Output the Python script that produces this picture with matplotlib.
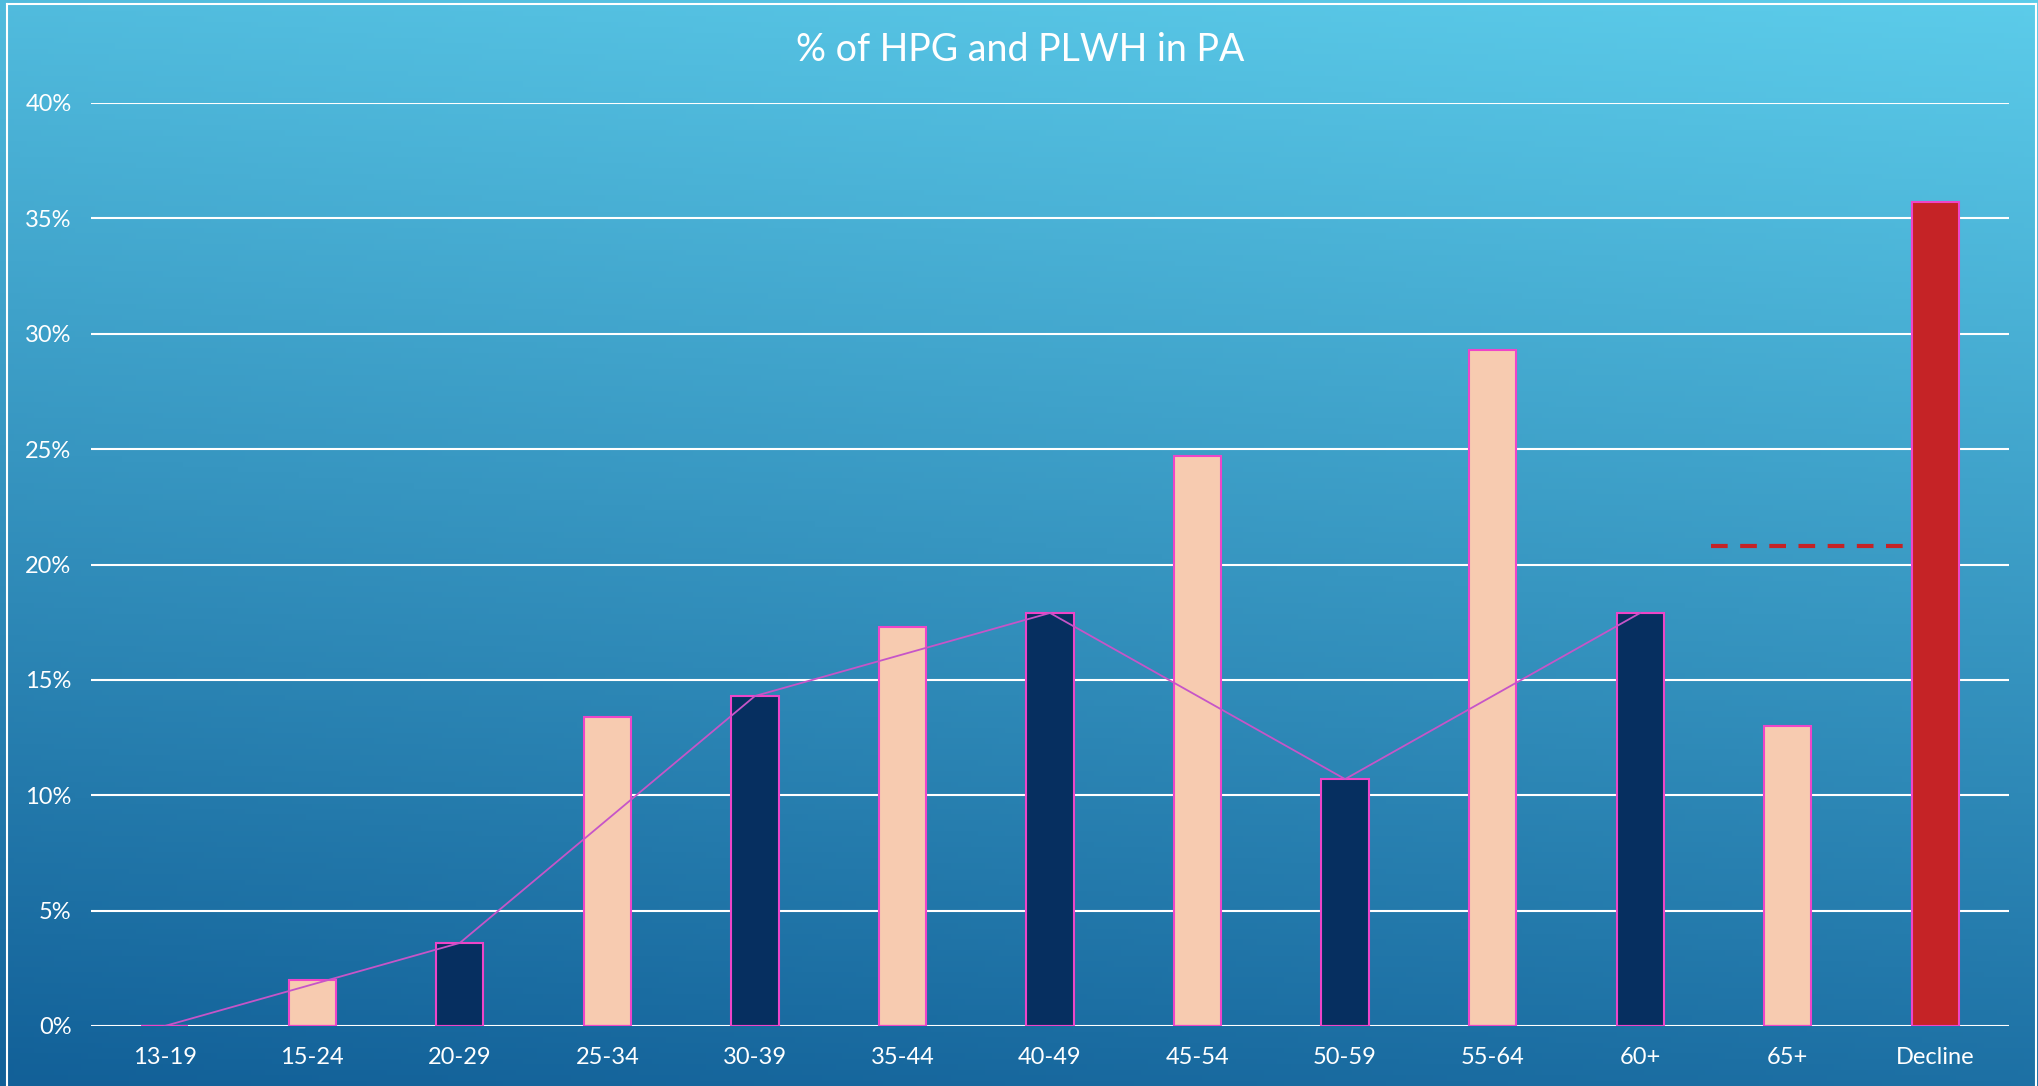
import numpy as np
import matplotlib
matplotlib.use("Agg")
import matplotlib.pyplot as plt
from matplotlib.lines import Line2D

categories = ['13-19', '15-24', '20-29', '25-34', '30-39', '35-44', '40-49',
              '45-54', '50-59', '55-64', '60+', '65+', 'Decline']
# pale (HPG) bars, dark (PLWH) bars, red decline bar
hpg_vals = [0, 2.0, 0, 13.4, 0, 17.3, 0, 24.7, 0, 29.3, 0, 13.0, 0]
plwh_vals = [0, 0, 3.6, 0, 14.3, 0, 17.9, 0, 10.7, 0, 17.9, 0, 0]
decline_vals = [0, 0, 0, 0, 0, 0, 0, 0, 0, 0, 0, 0, 35.7]
# line joins the PLWH points
line_idx = [0, 2, 4, 6, 8, 10]
line_vals = [0, 3.6, 14.3, 17.9, 10.7, 17.9]
ref_level = 20.8
ref_span = (10.48, 11.84)

plt.rcParams['font.family'] = ['Lato', 'DejaVu Sans']

W, H = 2038, 1086
fig = plt.figure(figsize=(W / 100, H / 100), dpi=100)

# gradient background
bg = fig.add_axes([0, 0, 1, 1])
yy, xx = np.mgrid[0:1:200j, 0:1:300j]
top = np.array([92, 204, 234]) / 255
bot = np.array([18, 96, 152]) / 255
t = np.clip(yy * 0.85 + (1 - xx) * 0.15, 0, 1)[..., None]
img = top * (1 - t) + bot * t
bg.imshow(img, aspect='auto', extent=[0, 1, 1, 0])
bg.set_xlim(0, 1)
bg.set_ylim(1, 0)
bg.axis('off')

# white frame lines
for xs, ys in [((7 / W, 7 / W), (0, 1 - 4 / H)),
               ((7 / W, 2036 / W), (1 - 4 / H, 1 - 4 / H)),
               ((2036 / W, 2036 / W), (0, 1 - 4 / H))]:
    fig.add_artist(Line2D(xs, ys, color='white', lw=1.5, transform=fig.transFigure))

ax = fig.add_axes([91 / W, 1 - 1026 / H, (2009 - 91) / W, (1026 - 103) / H])
ax.patch.set_alpha(0)

x = np.arange(len(categories))
bw = 0.32
edge = '#ee45c8'
ax.bar(x, hpg_vals, width=bw, color='#f7cbb0', edgecolor=edge, linewidth=1.5, zorder=3)
ax.bar(x, plwh_vals, width=bw, color='#062f60', edgecolor=edge, linewidth=1.5, zorder=3)
ax.bar(x, decline_vals, width=bw, color='#c52326', edgecolor=edge, linewidth=1.5, zorder=3)
ax.plot(x[line_idx], line_vals, color='#c655c8', lw=1.3, zorder=4)
ax.hlines(ref_level, ref_span[0], ref_span[1], colors='#c52326', linestyles=(0, (4, 3)),
          lw=3, zorder=2)

ax.set_xlim(-0.5, len(categories) - 0.5)
ax.set_ylim(0, 40)
ax.set_yticks(range(0, 41, 5))
ax.set_yticklabels([f'{v}%' for v in range(0, 41, 5)])
ax.set_xticks(x)
ax.set_xticklabels(categories)
ax.yaxis.grid(True, color='white', lw=1.5, zorder=1)
ax.set_axisbelow(True)
ax.tick_params(axis='y', length=0, pad=14, labelsize=17, labelcolor='white')
ax.tick_params(axis='x', length=0, pad=15, labelsize=17, labelcolor='white')
for s in ax.spines.values():
    s.set_visible(False)

fig.text(1020 / W, 1 - 50 / H, '% of HPG and PLWH in PA', color='white', fontsize=27,
         ha='center', va='center')

fig.savefig('out.png', dpi=100)
